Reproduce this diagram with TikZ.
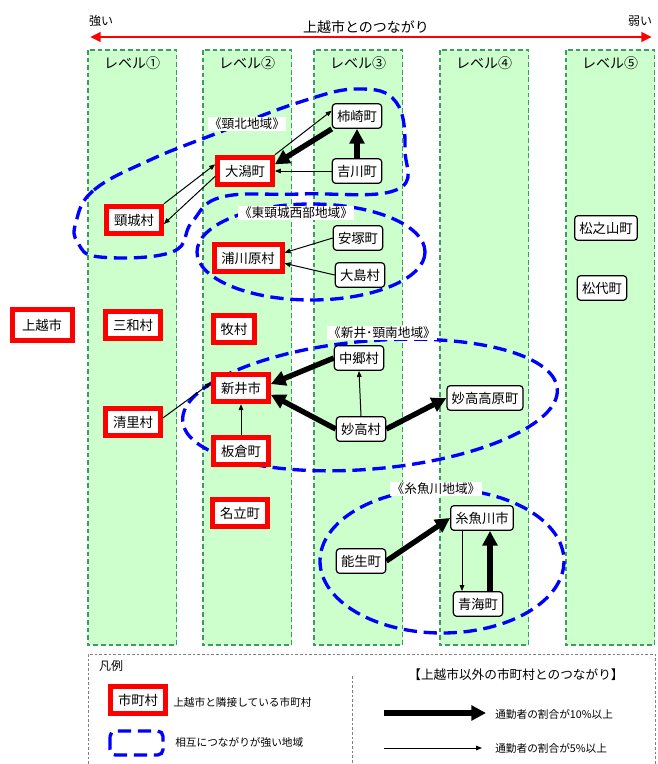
\documentclass[tikz,border=0pt]{standalone}
\usepackage{fontspec}
\setmainfont{Noto Sans CJK JP}
\usepackage{xcolor}
\usetikzlibrary{arrows.meta}

\definecolor{lvfill}{HTML}{CCFFCC}
\definecolor{lvline}{HTML}{3C9C64}

\begin{document}
\begin{tikzpicture}
[x=0.75pt,y=-0.75pt,>={Triangle[length=4.5pt,width=3.5pt]},
level/.style={draw=lvline,fill=lvfill,line width=0.9pt,dash pattern=on 3.5pt off 2.2pt},
adj/.style={draw=red,fill=white,line width=3.75pt,inner xsep=5.5pt,inner ysep=0pt,minimum height=20.5pt,font=\fontsize{10}{12}\selectfont},
town/.style={draw,fill=white,rounded corners=2.5pt,line width=0.9pt,inner xsep=3.5pt,inner ysep=0pt,minimum height=18.5pt,font=\fontsize{10}{12}\selectfont},
area/.style={draw=blue,line width=2.5pt,dash pattern=on 10pt off 5pt},
areaname/.style={fill=white,inner sep=1pt,font=\fontsize{9.5}{11}\selectfont},
weak/.style={->,line width=0.75pt},
strong/.style={-{Triangle[length=11pt,width=11pt]},line width=4pt},
note/.style={anchor=west,inner sep=0pt,font=\fontsize{8}{10}\selectfont},
]

\useasboundingbox (0,0) rectangle (657,764);

%Header
\node (S) at (101,21)[font=\fontsize{9}{11}\selectfont] {強い};
\node (W) at (640,21)[font=\fontsize{9}{11}\selectfont] {弱い};
\node (T) at (366,27)[font=\fontsize{10.5}{12}\selectfont] {上越市とのつながり};
\coordinate (L) at (90,37);
\coordinate (R) at (652,37);
\draw[red,line width=2pt,{Triangle[length=8pt,width=7pt]}-{Triangle[length=8pt,width=7pt]}] (L) -- (R);

%Levels
\foreach \x/\n in {88/①,203/②,314/③,440/④,566/⑤}{
  \draw[level] (\x,50) rectangle ++(88.5,595);
  \node at (\x+44,63)[font=\fontsize{10.5}{12}\selectfont] {レベル\n};
}

%Areas
\draw[area] plot[smooth cycle,tension=0.7] coordinates {(76,222) (94,190) (150,160) (215,134) (300,102) (358,89) (396,102) (405,150) (396,190) (300,194) (222,197) (192,222) (172,252) (100,257) (78,243)};
\draw[area] (311,252) ellipse [x radius=114,y radius=48];
\draw[area,rotate around={5:(370,405)}] (370,405) ellipse [x radius=188,y radius=64];
\draw[area] (442,561) ellipse [x radius=122,y radius=72];

\node (N1) at (247,124)[areaname] {《頸北地域》};
\node (N2) at (296,213)[areaname] {《東頸城西部地域》};
\node (N3) at (382,333)[areaname] {《新井･頸南地域》};
\node (N4) at (436,489)[areaname] {《糸魚川地域》};

%Towns next to Joetsu
\node (Joetsu) at (42,325)[adj,inner xsep=7.5pt,minimum height=23pt] {上越市};
\node (Kubiki) at (134,220)[adj] {頸城村};
\node (Sanwa) at (133,325)[adj] {三和村};
\node (Kiyosato) at (133,422)[adj] {清里村};
\node (Ogata) at (245,171)[adj] {大潟町};
\node (Urakawara) at (248,258)[adj] {浦川原村};
\node (Maki) at (234,329)[adj] {牧村};
\node (Arai) at (241,388)[adj] {新井市};
\node (Itakura) at (241,451)[adj] {板倉町};
\node (Nadachi) at (240,513)[adj] {名立町};

%Other towns
\node (Kakizaki) at (357,116)[town] {柿崎町};
\node (Yoshikawa) at (357,171)[town] {吉川町};
\node (Yasuzuka) at (358,238)[town] {安塚町};
\node (Oshima) at (360,275)[town] {大島村};
\node (Nakago) at (359,358)[town] {中郷村};
\node (MyokoV) at (361,429)[town] {妙高村};
\node (MyokoK) at (485,398)[town] {妙高高原町};
\node (Itoigawa) at (482,518)[town] {糸魚川市};
\node (Nou) at (361,561)[town] {能生町};
\node (Omi) at (478,604)[town] {青海町};
\node (Matsunoyama) at (606,228)[town] {松之山町};
\node (Matsudai) at (602,288)[town] {松代町};

%Commuter links
\draw[weak] (Kubiki.north east) -- ([yshift=5pt]Ogata.west);
\draw[weak] ([yshift=-4pt]Ogata.west) -- ([yshift=-3pt]Kubiki.east);
\draw[weak] (Ogata.north east) -- ([yshift=4pt]Kakizaki.west);
\draw[strong] (Kakizaki.south west) -- ([yshift=5pt]Ogata.east);
\draw[weak] (Yoshikawa.west) -- (Ogata.east);
\draw[strong] (Yoshikawa.north) -- (Kakizaki.south);
\draw[weak] (Yasuzuka.west) -- ([yshift=4pt]Urakawara.east);
\draw[weak] (Oshima.west) -- ([yshift=-4pt]Urakawara.east);
\draw[weak] ([yshift=3pt]Kiyosato.east) -- ([yshift=4pt]Arai.west);
\draw[weak] (Itakura.north) -- (Arai.south);
\draw[strong] (Nakago.west) -- ([yshift=3pt]Arai.east);
\draw[strong] (MyokoV.west) -- ([yshift=-5pt]Arai.east);
\draw[weak] (MyokoV.north) -- (Nakago.south);
\draw[strong] (MyokoV.east) -- (MyokoK.west);
\draw[strong] (Nou.east) -- (Itoigawa.west);
\draw[weak] ([xshift=-15pt]Itoigawa.south) -- ([xshift=-15pt]Itoigawa.south |- Omi.north);
\draw[strong] ([xshift=9pt]Omi.north) -- ([xshift=9pt]Omi.north |- Itoigawa.south);

%Legend
\draw[gray,line width=0.6pt,dash pattern=on 2pt off 1.5pt] (88,764) -- (88,654) -- (655,654) -- (655,764);
\draw[gray,line width=0.6pt,dash pattern=on 2pt off 1.5pt] (352,676) -- (352,764);
\node (K) at (111,666)[font=\fontsize{9}{11}\selectfont] {凡例};
\node (LA) at (138,700)[adj] {市町村};
\node (LAt) at (173,702)[note] {上越市と隣接している市町村};
\draw[area,rounded corners=4pt] (110,731) rectangle (163,755);
\node (LBt) at (175,742)[note] {相互につながりが強い地域};
\node (LT) at (516,675)[font=\fontsize{9.5}{11}\selectfont] {【上越市以外の市町村とのつながり】};
\coordinate (A1) at (384,713);
\coordinate (A2) at (486,713);
\draw[strong] (A1) -- (A2);
\node (LCt) at (495,714)[note] {通勤者の割合が10\%以上};
\coordinate (B1) at (384,748);
\coordinate (B2) at (482,748);
\draw[weak] (B1) -- (B2);
\node (LDt) at (495,748)[note] {通勤者の割合が5\%以上};

\end{tikzpicture}
\end{document}
